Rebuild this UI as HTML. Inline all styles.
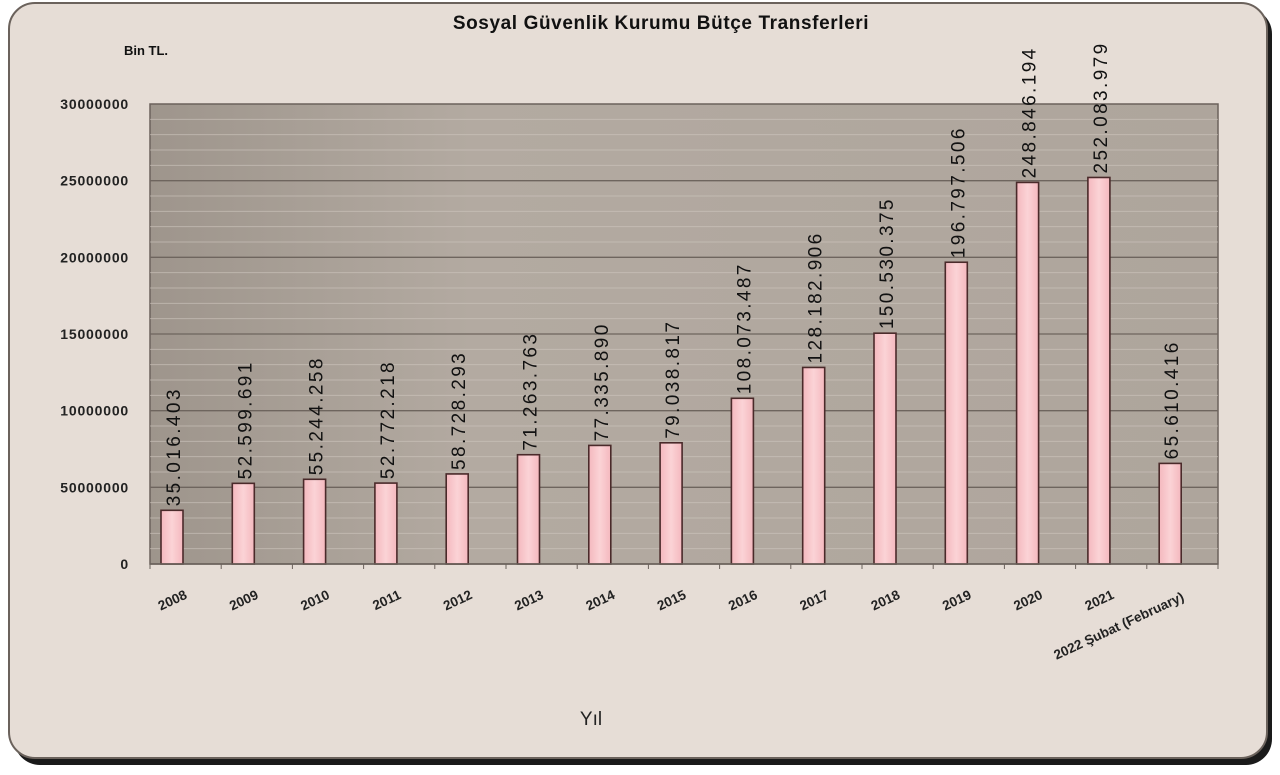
<!DOCTYPE html>
<html><head><meta charset="utf-8"><style>
html,body{margin:0;padding:0;background:#fff;}
svg{display:block;font-family:"Liberation Sans",sans-serif;}
</style></head><body>
<svg width="1280" height="775" viewBox="0 0 1280 775">
<defs>
<linearGradient id="pb" x1="0" y1="0" x2="1" y2="0">
<stop offset="0" stop-color="#9e958c"/><stop offset="0.3" stop-color="#b3aaa1"/><stop offset="1" stop-color="#aea59c"/>
</linearGradient>
<linearGradient id="bar" x1="0" y1="0" x2="1" y2="0">
<stop offset="0" stop-color="#f4b8be"/><stop offset="0.5" stop-color="#fbd3d6"/><stop offset="1" stop-color="#f4b8be"/>
</linearGradient>
</defs>
<rect x="14" y="8" width="1258" height="757" rx="26" fill="#1a1a1a"/>
<rect x="9" y="3" width="1258" height="755" rx="26" fill="#e6ddd6" stroke="#6b625c" stroke-width="2"/>
<text x="661" y="29" font-size="19" letter-spacing="0.6" font-weight="bold" text-anchor="middle" fill="#111">Sosyal Güvenlik Kurumu Bütçe Transferleri</text>
<text x="124" y="55" font-size="13" font-weight="bold" fill="#111">Bin TL.</text>
<rect x="150" y="104" width="1068" height="460" fill="url(#pb)" stroke="#6b625c" stroke-width="1.5"/>
<g id="grid"></g>
<g id="bars"></g>
<line x1="150" y1="564" x2="1218" y2="564" stroke="#6b625c" stroke-width="1.5"/>
<text x="591" y="725" font-size="19" text-anchor="middle" fill="#222">Yıl</text>
</svg>
<script>
var ns="http://www.w3.org/2000/svg",svg=document.querySelector("svg");
var g=document.getElementById("grid"),b=document.getElementById("bars");
function el(p,t,a,tx){var e=document.createElementNS(ns,t);for(var k in a)e.setAttribute(k,a[k]);if(tx)e.textContent=tx;p.appendChild(e);return e;}
for(var i=1;i<30;i++){var y=564-i*460/30;var maj=i%5==0;
el(g,"line",{x1:150,x2:1218,y1:y,y2:y,stroke:maj?"#6e655e":"#cfc7bf","stroke-width":maj?1.3:1,opacity:maj?1:0.6});}
for(var i=0;i<=6;i++){var y=564-i*460/6;
el(g,"text",{x:129,y:y+5,"font-size":14,"letter-spacing":0.8,"font-weight":"bold","text-anchor":"end",fill:"#222"},["0","50000000","10000000","15000000","20000000","25000000","30000000"][i]);}
for(var i=0;i<=15;i++){var x=150+i*71.2;el(g,"line",{x1:x,x2:x,y1:564,y2:569,stroke:"#6b625c"});}
var vals=["35.016.403","52.599.691","55.244.258","52.772.218","58.728.293","71.263.763","77.335.890","79.038.817","108.073.487","128.182.906","150.530.375","196.797.506","248.846.194","252.083.979","65.610.416"];
var cats=["2008","2009","2010","2011","2012","2013","2014","2015","2016","2017","2018","2019","2020","2021","2022 Şubat (February)"];
vals.forEach(function(s,i){var v=parseInt(s.replace(/\./g,""));var h=v/300000000*460;var cx=172+i*71.3;var top=564-h;
el(b,"rect",{x:cx-11,y:top,width:22,height:h,fill:"url(#bar)",stroke:"#4a2a2a","stroke-width":1.6});
el(b,"text",{x:0,y:0,"font-size":19,"letter-spacing":2.4,fill:"#111",transform:"translate("+(cx+8)+","+(top-4)+") rotate(-90)"},s);
var tx,ty;if(i==14){tx=1185;ty=600;}else{tx=cx+16;ty=598;}
el(b,"text",{x:0,y:0,"font-size":13.5,"font-weight":"bold",fill:"#222","text-anchor":"end",transform:"translate("+tx+","+ty+") rotate(-25)"},cats[i]);
});
</script>
</body></html>
